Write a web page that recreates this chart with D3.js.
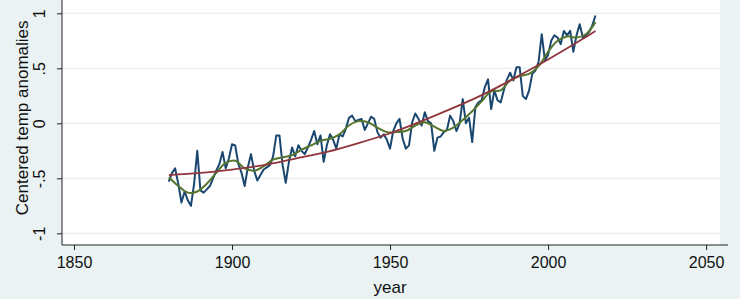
<!DOCTYPE html>
<html>
<head>
<meta charset="utf-8">
<script src="https://cdn.jsdelivr.net/npm/d3@7"></script>
<style>
  html, body { margin: 0; padding: 0; background: #eaf2f3; }
  svg { display: block; font-family: "Liberation Sans", Arial, sans-serif; }
</style>
</head>
<body>
<div id="chart"></div>
<script>
// chart size
const WIDTH = 740;
const HEIGHT = 299;

// annual anomalies, 1880-2015 (blue line)
const years = d3.range(1880, 2016);
const anomalies = [
  -0.53, -0.45, -0.41, -0.55, -0.72, -0.62, -0.70, -0.75, -0.55, -0.25,
  -0.61, -0.63, -0.60, -0.57, -0.50, -0.43, -0.37, -0.26, -0.41, -0.32,
  -0.19, -0.20, -0.37, -0.45, -0.57, -0.40, -0.28, -0.43, -0.52, -0.47,
  -0.42, -0.40, -0.38, -0.30, -0.11, -0.11, -0.38, -0.54, -0.35, -0.22,
  -0.30, -0.20, -0.25, -0.28, -0.22, -0.15, -0.07, -0.19, -0.11, -0.35,
  -0.20, -0.10, -0.15, -0.23, -0.10, -0.12, -0.05, 0.05, 0.07, 0.02,
  0.03, 0.04, -0.06, 0.00, 0.06, 0.04, -0.08, -0.13, -0.10, -0.15,
  -0.23, -0.07, 0.00, 0.04, -0.14, -0.23, -0.20, 0.01, 0.09, 0.04,
  -0.02, 0.10, 0.02, 0.00, -0.25, -0.13, -0.12, -0.08, -0.06, 0.07,
  0.02, -0.07, 0.00, 0.22, 0.00, 0.05, -0.17, 0.15, 0.19, 0.21,
  0.33, 0.40, 0.13, 0.30, 0.21, 0.19, 0.30, 0.40, 0.46, 0.39,
  0.51, 0.51, 0.25, 0.22, 0.30, 0.45, 0.48, 0.56, 0.81, 0.57,
  0.62, 0.75, 0.80, 0.78, 0.72, 0.84, 0.80, 0.84, 0.65, 0.80,
  0.90, 0.78, 0.80, 0.83, 0.89, 0.98
];

// smoothed curve (green), read at sample years
const smoothYears = [1880, 1883, 1886, 1889, 1892, 1895, 1898, 1901, 1904, 1907,
  1910, 1913, 1916, 1919, 1922, 1925, 1928, 1931, 1934, 1937, 1940, 1943, 1946,
  1949, 1952, 1955, 1958, 1961, 1964, 1967, 1970, 1973, 1976, 1979, 1982, 1985,
  1988, 1991, 1994, 1997, 2000, 2003, 2006, 2009, 2012, 2015];
const smoothValues = [-0.49, -0.57, -0.63, -0.62, -0.55, -0.45, -0.36, -0.34, -0.41, -0.43,
  -0.39, -0.33, -0.31, -0.29, -0.24, -0.20, -0.16, -0.14, -0.10, -0.02, 0.02, 0.01, -0.04,
  -0.08, -0.08, -0.07, -0.02, 0.01, -0.03, -0.07, -0.04, 0.03, 0.11, 0.20, 0.29, 0.30,
  0.39, 0.43, 0.45, 0.52, 0.65, 0.75, 0.79, 0.78, 0.81, 0.92];

// quadratic trend (red), read at sample years
const trendYears = [1880, 1890, 1900, 1910, 1920, 1930, 1940, 1950, 1960, 1970, 1980, 1990, 2000, 2010, 2015];
const trendValues = [-0.47, -0.45, -0.42, -0.38, -0.32, -0.26, -0.18, -0.09, 0.02, 0.14, 0.27, 0.42, 0.58, 0.75, 0.84];

// axis ticks
const xTicks = [1850, 1900, 1950, 2000, 2050];
const yTicks = [-1, -0.5, 0, 0.5, 1];
const yTickLabels = ['-1', '-.5', '0', '.5', '1'];

// plot region
const plot = { left: 62, right: 720, top: 0, bottom: 245 };

const svg = d3.select('#chart')
    .append('svg')
    .attr('width', WIDTH)
    .attr('height', HEIGHT);

svg.append('rect')
    .attr('width', WIDTH)
    .attr('height', HEIGHT)
    .attr('fill', '#eaf2f3');

svg.append('rect')
    .attr('x', plot.left)
    .attr('y', plot.top)
    .attr('width', plot.right - plot.left)
    .attr('height', plot.bottom - plot.top)
    .attr('fill', '#ffffff');

const x = d3.scaleLinear()
    .domain([1846.2, 2054.4])
    .range([plot.left, plot.right]);

const y = d3.scaleLinear()
    .domain([-1.106, 1.121])
    .range([plot.bottom, plot.top]);

// gridlines
svg.append('g')
    .selectAll('line')
    .data(yTicks)
    .enter()
    .append('line')
    .attr('x1', plot.left)
    .attr('x2', plot.right)
    .attr('y1', d => y(d))
    .attr('y2', d => y(d))
    .attr('stroke', '#e6eef0')
    .attr('stroke-width', 1.2);

// x axis
const xAxis = svg.append('g')
    .attr('transform', `translate(0, ${plot.bottom})`)
    .call(d3.axisBottom(x).tickValues(xTicks).tickFormat(d3.format('d')).tickSize(5).tickSizeOuter(0));
xAxis.select('.domain').attr('stroke', '#222').attr('d', `M${plot.left},0H${plot.right + 8}`);
xAxis.selectAll('.tick line').attr('stroke', '#222');
xAxis.selectAll('.tick text')
    .attr('fill', '#111')
    .attr('font-size', 16)
    .attr('dy', '0.95em');

// y axis
const yAxis = svg.append('g')
    .attr('transform', `translate(${plot.left}, 0)`)
    .call(d3.axisLeft(y).tickValues(yTicks).tickFormat((d, i) => yTickLabels[i]).tickSize(5).tickSizeOuter(0));
yAxis.select('.domain').attr('stroke', '#222').attr('d', `M0,${plot.top}V${plot.bottom}`);
yAxis.selectAll('.tick line').attr('stroke', '#222');
yAxis.selectAll('.tick text')
    .attr('fill', '#111')
    .attr('font-size', 16)
    .attr('x', 0)
    .attr('dy', 0)
    .attr('text-anchor', 'middle')
    .attr('transform', 'translate(-17, 0) rotate(-90)');

// axis titles
svg.append('text')
    .attr('x', x(1950))
    .attr('y', 293)
    .attr('text-anchor', 'middle')
    .attr('font-size', 17)
    .attr('fill', '#111')
    .text('year');

svg.append('text')
    .attr('transform', `translate(28, ${y(0.05)}) rotate(-90)`)
    .attr('text-anchor', 'middle')
    .attr('font-size', 17)
    .attr('fill', '#111')
    .text('Centered temp anomalies');

// lines
const rawLine = d3.line()
    .x((d, i) => x(years[i]))
    .y(d => y(d));

svg.append('path')
    .datum(anomalies)
    .attr('d', rawLine)
    .attr('fill', 'none')
    .attr('stroke', '#1a476f')
    .attr('stroke-width', 2)
    .attr('stroke-linejoin', 'round');

const smoothLine = d3.line()
    .x((d, i) => x(smoothYears[i]))
    .y(d => y(d))
    .curve(d3.curveCatmullRom);

svg.append('path')
    .datum(smoothValues)
    .attr('d', smoothLine)
    .attr('fill', 'none')
    .attr('stroke', '#55752f')
    .attr('stroke-width', 2);

const trendLine = d3.line()
    .x((d, i) => x(trendYears[i]))
    .y(d => y(d))
    .curve(d3.curveNatural);

svg.append('path')
    .datum(trendValues)
    .attr('d', trendLine)
    .attr('fill', 'none')
    .attr('stroke', '#90353b')
    .attr('stroke-width', 1.8);
</script>
</body>
</html>
